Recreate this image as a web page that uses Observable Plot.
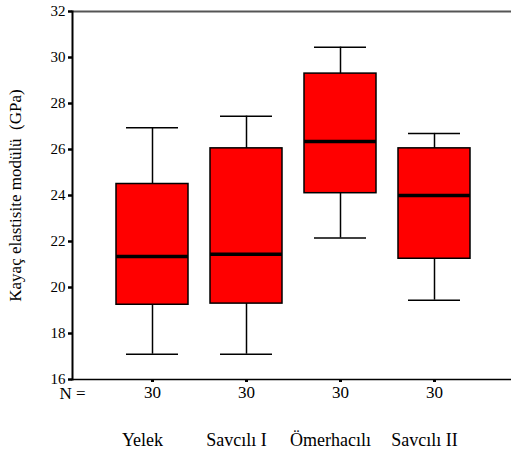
<!DOCTYPE html>
<html>
<head>
<meta charset="utf-8">
<script src="https://cdn.jsdelivr.net/npm/d3@7"></script>
<script src="https://cdn.jsdelivr.net/npm/@observablehq/plot@0.6"></script>
<style>
  body { margin: 0; background: white; }
  svg text { font-family: 'Liberation Serif', 'Times New Roman', serif !important; font-variant: normal !important; }
</style>
</head>
<body>
<div id="chart"></div>
<script>
const categories = ["Yelek", "Savcılı I", "Ömerhacılı", "Savcılı II"];
const whiskerLow = [17.1, 17.1, 22.15, 19.45];
const q1 = [19.25, 19.3, 24.1, 21.25];
const median = [21.35, 21.45, 26.35, 24.0];
const q3 = [24.5, 26.05, 29.3, 26.05];
const whiskerHigh = [26.95, 27.45, 30.45, 26.7];
const counts = [30, 30, 30, 30];
const yTicks = [16, 18, 20, 22, 24, 26, 28, 30, 32];

const rows = categories.map((c, i) => ({
  cat: c, lo: whiskerLow[i], q1: q1[i], med: median[i], q3: q3[i], hi: whiskerHigh[i], n: counts[i]
}));

const serif = "'Liberation Serif', 'Times New Roman', serif";

const chart = Plot.plot({
  width: 511,
  height: 454,
  marginLeft: 72,
  marginRight: 0,
  marginTop: 11,
  marginBottom: 75,
  style: { fontFamily: serif, background: "white", color: "black" },
  x: { domain: categories, paddingInner: 0.229, paddingOuter: 0.442, align: 0.524, axis: null },
  y: { domain: [16, 32], axis: null },
  marks: [
    Plot.ruleY([32], { stroke: "#555", strokeWidth: 2 }),
    Plot.ruleY([16], { stroke: "black", strokeWidth: 1.5 }),
    Plot.frame({ anchor: "left", stroke: "black", strokeWidth: 2 }),
    Plot.ruleX(rows, { x: "cat", y1: "lo", y2: "hi", stroke: "black", strokeWidth: 1.5 }),
    Plot.barY(rows, { x: "cat", y1: "q1", y2: "q3", fill: "#ff0000", stroke: "black", strokeWidth: 1.5 }),
    Plot.tickY(rows, { x: "cat", y: "med", stroke: "black", strokeWidth: 3.5 }),
    Plot.tickY(rows, { x: "cat", y: "lo", stroke: "black", strokeWidth: 1.5, insetLeft: 10, insetRight: 10 }),
    Plot.tickY(rows, { x: "cat", y: "hi", stroke: "black", strokeWidth: 1.5, insetLeft: 10, insetRight: 10 }),
    Plot.axisY({
      ticks: yTicks, tickSize: 4, tickPadding: 3, fontSize: 15, strokeWidth: 2.5, fontFamily: serif, label: null
    }),
    Plot.axisY({
      ticks: [], fontSize: 17, fontFamily: serif,
      label: "Kayaç elastisite modülü  (GPa)", labelAnchor: "center", labelArrow: "none", labelOffset: 64
    }),
    Plot.axisX({
      tickSize: 3, tickPadding: 3, fontSize: 17, strokeWidth: 3, label: null, fontFamily: serif,
      tickFormat: d => counts[categories.indexOf(d)]
    }),
    Plot.axisX({
      tickSize: 0, tickPadding: 54, fontSize: 18, label: null, dx: -10, fontFamily: serif,
      tickFormat: d => d
    }),
    Plot.text(["N ="], {
      frameAnchor: "bottom-left", textAnchor: "middle", lineAnchor: "middle", dy: 14, fontSize: 17, fontFamily: serif
    })
  ]
});
document.getElementById("chart").appendChild(chart);
</script>
</body>
</html>
